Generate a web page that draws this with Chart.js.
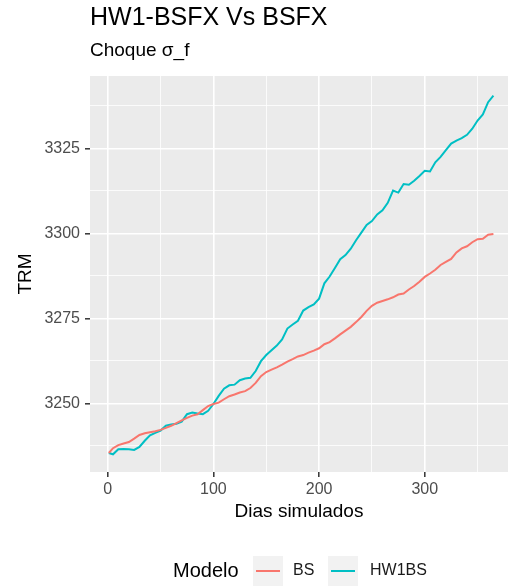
<!DOCTYPE html>
<html>
<head>
<meta charset="utf-8">
<script src="https://cdn.jsdelivr.net/npm/chart.js@4"></script>
<style>
  body { margin: 0; background: #fff; }
</style>
</head>
<body>
<canvas id="myChart" width="508" height="587"></canvas>
<script>
// simulated day (sampled every 5 days)
const days = [1, 5, 10, 15, 20, 25, 30, 35, 40, 45, 50, 55, 60, 65, 70, 75, 80, 85, 90, 95,
  100, 105, 110, 115, 120, 125, 130, 135, 140, 145, 150, 155, 160, 165, 170, 175, 180, 185, 190, 195,
  200, 205, 210, 215, 220, 225, 230, 235, 240, 245, 250, 255, 260, 265, 270, 275, 280, 285, 290, 295,
  300, 305, 310, 315, 320, 325, 330, 335, 340, 345, 350, 355, 360, 365];

const bsValues = [3235.4, 3236.8, 3237.7, 3238.2, 3238.6, 3239.6, 3240.7, 3241.2, 3241.5, 3241.8,
  3242.2, 3242.8, 3243.4, 3244.2, 3245.0, 3245.7, 3246.4, 3246.8, 3248.0, 3249.2,
  3249.8, 3250.2, 3251.2, 3252.1, 3252.6, 3253.2, 3253.6, 3254.5, 3256.0, 3258.0,
  3259.2, 3259.9, 3260.6, 3261.4, 3262.3, 3263.0, 3263.8, 3264.2, 3264.9, 3265.5,
  3266.2, 3267.4, 3268.0, 3269.1, 3270.3, 3271.4, 3272.5, 3273.9, 3275.4, 3277.2,
  3278.7, 3279.6, 3280.1, 3280.6, 3281.2, 3282.0, 3282.3, 3283.5, 3284.5, 3285.8,
  3287.2, 3288.2, 3289.3, 3290.7, 3291.6, 3292.5, 3294.4, 3295.6, 3296.2, 3297.4,
  3298.3, 3298.4, 3299.6, 3299.8];

const hw1Values = [3235.4, 3235.0, 3236.5, 3236.6, 3236.5, 3236.3, 3237.2, 3239.0, 3240.6, 3241.3,
  3242.0, 3243.4, 3243.8, 3244.0, 3244.6, 3246.8, 3247.3, 3247.0, 3246.8, 3247.8,
  3249.8, 3252.2, 3254.3, 3255.3, 3255.5, 3256.8, 3257.3, 3257.5, 3259.5, 3262.4,
  3264.2, 3265.6, 3267.0, 3268.8, 3272.0, 3273.2, 3274.3, 3277.3, 3278.3, 3279.1,
  3280.8, 3285.3, 3287.3, 3289.8, 3292.4, 3293.6, 3295.5, 3298.0, 3300.2, 3302.5,
  3303.6, 3305.6, 3306.8, 3309.0, 3312.6, 3312.0, 3314.5, 3314.3, 3315.5, 3316.9,
  3318.4, 3318.2, 3320.9, 3322.5, 3324.5, 3326.4, 3327.3, 3328.0, 3329.0, 3330.8,
  3333.2, 3335.0, 3338.6, 3340.5];

const seriesNames = ['BS', 'HW1BS'];
const seriesColors = ['#F8766D', '#00BFC4'];

const FONT = 'Liberation Sans, Arial, Helvetica, sans-serif';

const panelBg = {
  id: 'panelBg',
  beforeDraw(chart) {
    const {ctx, chartArea: a} = chart;
    ctx.save();
    ctx.fillStyle = '#ebebeb';
    ctx.fillRect(a.left, a.top, a.right - a.left, a.bottom - a.top);
    ctx.restore();
  }
};

// ggplot-style legend at the bottom: title on the left, keys in grey boxes
const ggLegend = {
  id: 'ggLegend',
  afterDraw(chart) {
    const ctx = chart.ctx;
    const cy = 571;
    ctx.save();
    ctx.textBaseline = 'middle';
    ctx.fillStyle = '#000';
    ctx.font = '20px ' + FONT;
    ctx.fillText('Modelo', 173, cy);
    ctx.font = '16px ' + FONT;
    const keyX = [253, 328];
    const labelX = [293, 370];
    seriesNames.forEach((name, i) => {
      ctx.fillStyle = '#f2f2f2';
      ctx.fillRect(keyX[i], cy - 15, 30, 30);
      ctx.strokeStyle = seriesColors[i];
      ctx.lineWidth = 2;
      ctx.beginPath();
      ctx.moveTo(keyX[i] + 3, cy);
      ctx.lineTo(keyX[i] + 27, cy);
      ctx.stroke();
      ctx.fillStyle = '#1a1a1a';
      ctx.fillText(name, labelX[i], cy);
    });
    ctx.restore();
  }
};

const ctx = document.getElementById('myChart').getContext('2d');
new Chart(ctx, {
  type: 'line',
  data: {
    datasets: [
      {
        label: seriesNames[0],
        data: days.map((d, i) => ({x: d, y: bsValues[i]})),
        borderColor: seriesColors[0],
        borderWidth: 2,
        pointRadius: 0,
        tension: 0
      },
      {
        label: seriesNames[1],
        data: days.map((d, i) => ({x: d, y: hw1Values[i]})),
        borderColor: seriesColors[1],
        borderWidth: 2,
        pointRadius: 0,
        tension: 0
      }
    ]
  },
  options: {
    responsive: false,
    animation: false,
    devicePixelRatio: 1,
    layout: { padding: { left: 0, right: 0, top: 0, bottom: 60 } },
    plugins: {
      legend: { display: false },
      tooltip: { enabled: false },
      title: {
        display: true,
        text: 'HW1-BSFX Vs BSFX',
        align: 'start',
        fullSize: false,
        color: '#000',
        font: { family: FONT, size: 25, weight: 'normal' },
        padding: { top: 3, bottom: 0 }
      },
      subtitle: {
        display: true,
        text: 'Choque σ_f',
        align: 'start',
        fullSize: false,
        color: '#000',
        font: { family: FONT, size: 19, weight: 'normal' },
        padding: { top: 6, bottom: 14.2 }
      }
    },
    scales: {
      x: {
        type: 'linear',
        min: -16.8,
        max: 378.8,
        afterFit: s => { s.height = 55; },
        border: { display: false },
        grid: {
          color: '#fff',
          lineWidth: c => (c.tick && c.tick.value % 100 === 0 ? 1.6 : 0.8),
          tickLength: 5,
          tickWidth: 1.5,
          tickColor: c => (c.tick && c.tick.value % 100 === 0 ? '#333' : 'rgba(0,0,0,0)')
        },
        ticks: {
          stepSize: 50,
          includeBounds: false,
          autoSkip: false,
          maxRotation: 0,
          padding: 3,
          color: '#4d4d4d',
          font: { family: FONT, size: 16 },
          callback: v => (v % 100 === 0 ? v : '')
        },
        title: {
          display: true,
          text: 'Dias simulados',
          color: '#000',
          font: { family: FONT, size: 19 },
          padding: { top: 0, bottom: 3.6 }
        }
      },
      y: {
        min: 3229.8,
        max: 3346.3,
        afterFit: s => { s.width = 90; },
        border: { display: false },
        grid: {
          color: '#fff',
          lineWidth: c => (c.tick && c.tick.value % 25 === 0 ? 1.6 : 0.8),
          tickLength: 5,
          tickWidth: 1.5,
          tickColor: c => (c.tick && c.tick.value % 25 === 0 ? '#333' : 'rgba(0,0,0,0)')
        },
        ticks: {
          stepSize: 12.5,
          includeBounds: false,
          autoSkip: false,
          padding: 5,
          color: '#4d4d4d',
          font: { family: FONT, size: 16 },
          callback: v => (v % 25 === 0 ? v : '')
        },
        title: {
          display: true,
          text: 'TRM',
          color: '#000',
          font: { family: FONT, size: 19 },
          padding: { top: 14, bottom: 0 }
        }
      }
    }
  },
  plugins: [panelBg, ggLegend]
});
</script>
</body>
</html>
